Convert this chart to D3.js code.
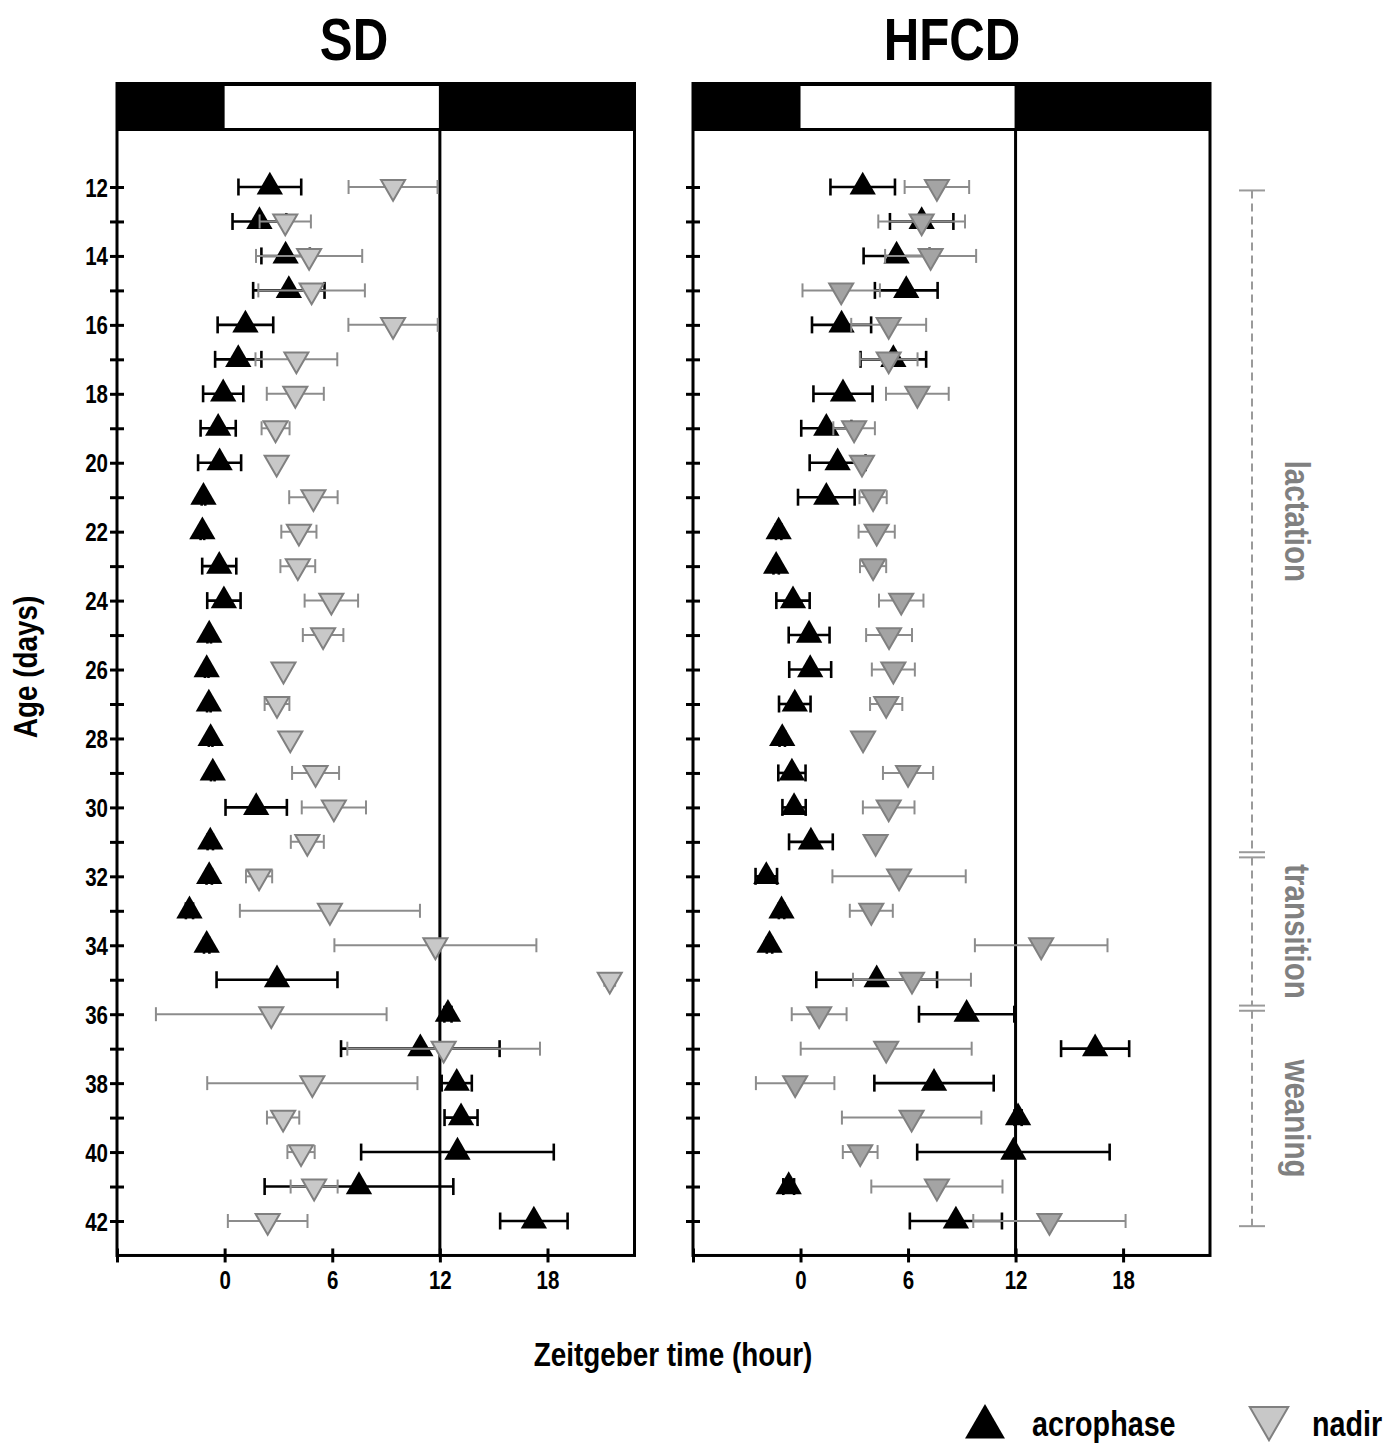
<!DOCTYPE html>
<html>
<head>
<meta charset="utf-8">
<script src="https://cdn.jsdelivr.net/npm/d3@7"></script>
<style>
  body { margin: 0; background: #fff; }
  svg { display: block; }
  text { font-family: "Liberation Sans", Arial, sans-serif; font-weight: bold; }
</style>
</head>
<body>
<svg id="chart" width="1399" height="1443"></svg>
<script>
// Postnatal age (days)
const days = [12,13,14,15,16,17,18,19,20,21,22,23,24,25,26,27,28,29,30,31,32,33,34,35,36,37,38,39,40,41,42];

// SD: acrophase / nadir (ZT hours) with error half-widths
const sdAcro     = [2.52,1.94,3.40,3.58,1.16,0.76,-0.08,-0.36,-0.28,-1.18,-1.24,-0.30,-0.04,-0.86,-1.00,-0.88,-0.78,-0.66,1.76,-0.80,-0.86,-1.96,-1.00,2.92,12.45,10.91,12.94,13.18,12.98,7.49,17.24];
const sdAcroErr  = [1.75,1.50,1.35,1.99,1.55,1.29,1.12,0.98,1.20,0.10,0.10,0.95,0.93,0.10,0.10,0.10,0.10,0.10,1.71,0.15,0.15,0.20,0.15,3.37,0.20,4.42,0.84,0.92,5.37,5.26,1.88];
const sdNadir    = [9.39,3.38,4.71,4.85,9.39,4.00,3.94,2.84,2.90,4.95,4.14,4.08,5.95,5.49,3.28,2.92,3.66,5.07,6.09,4.61,1.92,5.87,11.75,21.47,2.60,12.21,4.89,3.26,4.26,4.99,2.40];
const sdNadirErr = [2.48,1.43,2.96,2.97,2.49,2.28,1.59,0.78,0.15,1.35,0.98,0.97,1.49,1.13,0.15,0.69,0.15,1.31,1.79,0.92,0.73,5.02,5.63,0.30,6.43,5.37,5.86,0.90,0.76,1.31,2.22];

// HFCD: acrophase / nadir (ZT hours) with error half-widths
const hfAcro     = [3.47,6.76,5.36,5.90,2.29,5.18,2.37,1.44,2.07,1.44,-1.22,-1.36,-0.42,0.48,0.54,-0.32,-1.02,-0.48,-0.36,0.58,-1.91,-1.06,-1.73,4.25,9.27,16.44,7.45,12.14,11.88,-0.66,8.67];
const hfAcroErr  = [1.80,1.77,1.84,1.75,1.65,1.83,1.65,1.40,1.56,1.58,0.15,0.15,0.93,1.14,1.17,0.88,0.15,0.76,0.65,1.22,0.60,0.15,0.15,3.37,2.66,1.90,3.33,0.20,5.37,0.30,2.57];
const hfNadir    = [7.61,6.76,7.26,2.27,4.92,4.92,6.52,2.99,3.43,4.05,4.25,4.05,5.62,4.94,5.18,4.78,3.49,6.00,4.92,4.19,5.50,3.95,13.43,6.22,1.04,4.78,-0.30,6.20,3.33,7.61,13.89];
const hfNadirErr = [1.80,2.42,2.54,2.16,2.09,1.61,1.75,1.16,0.20,0.76,1.01,0.73,1.24,1.28,1.20,0.90,0.15,1.40,1.44,0.15,3.72,1.20,3.70,3.29,1.53,4.77,2.19,3.89,0.97,3.66,4.25];

// Axis ticks
const xTicks = [-6, 0, 6, 12, 18];
const xTickLabels = ["", "0", "6", "12", "18"];
const yTicks = days;
const yTickLabels = [12,14,16,18,20,22,24,26,28,30,32,34,36,38,40,42];

// Light/dark cycle (ZT hours)
const lightPhase = [0, 12];

// Developmental stages (age range in days)
const stageNames = ["lactation", "transition", "weaning"];
const stageStart = [12.1, 31.45, 35.9];
const stageEnd   = [31.3, 35.75, 42.15];

const svg = d3.select("#chart");
const NARROW = 0.82; // horizontal condensing for a narrow bold face

// text helper: positioned, optionally rotated, horizontally condensed
function label(parent, x, y, str, size, opts = {}) {
  return parent.append("text")
    .attr("transform", `translate(${x},${y})${opts.rotate ? ` rotate(${opts.rotate})` : ""} scale(${NARROW},1)`)
    .attr("text-anchor", opts.anchor || "start")
    .attr("font-size", size)
    .attr("font-weight", opts.weight || "bold")
    .attr("fill", opts.fill || "#000")
    .text(str);
}
function condenseTicks(sel) {
  sel.each(function () {
    const t = d3.select(this);
    const x = +t.attr("x") || 0, y = +t.attr("y") || 0;
    t.attr("x", 0).attr("y", 0).attr("transform", `translate(${x},${y}) scale(${NARROW},1)`);
  });
}

const yScale = d3.scaleLinear().domain([12, 42]).range([187, 1221]);
const frameTop = 83.5, barBottom = 131, frameBottom = yScale(43);

const panels = [
  { title: "SD",   titleX: 354, left: 117, right: 634.5, acro: sdAcro, acroErr: sdAcroErr, nadir: sdNadir, nadirErr: sdNadirErr, nadirFill: "#c8c8c8", yLabels: true },
  { title: "HFCD", titleX: 952, left: 693, right: 1210,  acro: hfAcro, acroErr: hfAcroErr, nadir: hfNadir, nadirErr: hfNadirErr, nadirFill: "#a4a4a4", yLabels: false }
];

const triUp = d3.symbol().type(d3.symbolTriangle).size(300);
const triDown = d3.symbol().type(d3.symbolTriangle).size(250);

panels.forEach(p => {
  const x = d3.scaleLinear().domain([-6, 22.85]).range([p.left, p.right]);
  const g = svg.append("g");

  // title
  label(g, p.titleX, 60, p.title, 60, { anchor: "middle" });

  // light/dark bar
  g.append("rect").attr("x", x(-6)).attr("y", frameTop).attr("width", x(22.85) - x(-6))
    .attr("height", barBottom - frameTop).attr("fill", "#000");
  g.append("rect").attr("x", x(lightPhase[0])).attr("y", frameTop + 2.5)
    .attr("width", x(lightPhase[1]) - x(lightPhase[0]) - 1).attr("height", barBottom - frameTop - 5.5)
    .attr("fill", "#fff");

  // frame
  g.append("rect").attr("x", x(-6)).attr("y", frameTop).attr("width", x(22.85) - x(-6))
    .attr("height", frameBottom - frameTop).attr("fill", "none")
    .attr("stroke", "#000").attr("stroke-width", 3);

  // ZT12 line
  g.append("line").attr("x1", x(12)).attr("x2", x(12)).attr("y1", barBottom).attr("y2", frameBottom)
    .attr("stroke", "#000").attr("stroke-width", 3);

  // y axis ticks
  const yAxis = d3.axisLeft(yScale).tickValues(yTicks).tickSize(7)
    .tickFormat(d => (p.yLabels && yTickLabels.includes(d)) ? d : "");
  const ya = g.append("g").attr("transform", `translate(${p.left},0)`).call(yAxis);
  ya.select(".domain").remove();
  ya.selectAll(".tick line").attr("x2", -7).attr("x1", 7).attr("stroke", "#000").attr("stroke-width", 3);
  ya.selectAll(".tick text").attr("x", -9).attr("dy", "0.36em").attr("font-size", 25)
    .attr("font-family", null).attr("fill", "#000");
  condenseTicks(ya.selectAll(".tick text"));

  // x axis ticks
  const xAxis = d3.axisBottom(x).tickValues(xTicks).tickSize(7)
    .tickFormat((d, i) => xTickLabels[i]);
  const xa = g.append("g").attr("transform", `translate(0,${frameBottom})`).call(xAxis);
  xa.select(".domain").remove();
  xa.selectAll(".tick line").attr("y1", -7).attr("y2", 7).attr("stroke", "#000").attr("stroke-width", 3);
  xa.selectAll(".tick text").attr("y", 16).attr("dy", "0.71em").attr("font-size", 25)
    .attr("font-family", null).attr("fill", "#000");
  condenseTicks(xa.selectAll(".tick text"));

  // error bars + markers for one series
  const drawSeries = (vals, errs, col, capH, sw, kind) => {
    const s = g.append("g");
    const rows = days.map((d, i) => ({ d, v: vals[i], e: errs[i] }));
    s.selectAll("line.bar").data(rows).join("line").attr("class", "bar")
      .attr("x1", r => x(r.v - r.e)).attr("x2", r => x(r.v + r.e))
      .attr("y1", r => yScale(r.d)).attr("y2", r => yScale(r.d))
      .attr("stroke", col).attr("stroke-width", sw);
    [-1, 1].forEach(sgn => {
      s.selectAll(null).data(rows).join("line")
        .attr("x1", r => x(r.v + sgn * r.e)).attr("x2", r => x(r.v + sgn * r.e))
        .attr("y1", r => yScale(r.d) - capH).attr("y2", r => yScale(r.d) + capH)
        .attr("stroke", col).attr("stroke-width", sw);
    });
    if (kind === "acro") {
      s.selectAll("path").data(rows).join("path")
        .attr("d", triUp)
        .attr("transform", r => `translate(${x(r.v)},${yScale(r.d)})`)
        .attr("fill", "#000");
    } else {
      s.selectAll("path").data(rows).join("path")
        .attr("d", triDown)
        .attr("transform", r => `translate(${x(r.v)},${yScale(r.d)}) rotate(180)`)
        .attr("fill", p.nadirFill).attr("stroke", "#808080").attr("stroke-width", 2);
    }
  };
  drawSeries(p.acro, p.acroErr, "#000", 8.5, 2.6, "acro");
  drawSeries(p.nadir, p.nadirErr, "#8c8c8c", 7, 2, "nadir");
});

// axis titles
label(svg, 673, 1366, "Zeitgeber time (hour)", 34, { anchor: "middle" });
label(svg, 37, 667, "Age (days)", 34, { anchor: "middle", rotate: -90 });

// developmental stage bracket
const bx = 1252;
const stg = svg.append("g");
stageNames.forEach((name, i) => {
  const y0 = yScale(stageStart[i]), y1 = yScale(stageEnd[i]);
  stg.append("line").attr("x1", bx).attr("x2", bx).attr("y1", y0).attr("y2", y1)
    .attr("stroke", "#9a9a9a").attr("stroke-width", 2).attr("stroke-dasharray", "8,5");
  [y0, y1].forEach(yy => stg.append("line").attr("x1", bx - 13).attr("x2", bx + 13)
    .attr("y1", yy).attr("y2", yy).attr("stroke", "#9a9a9a").attr("stroke-width", 2));
  label(stg, 1285, (y0 + y1) / 2, name, 36, { anchor: "middle", rotate: 90, weight: "normal", fill: "#808080" });
});

// legend
const lg = svg.append("g");
lg.append("path").attr("d", d3.symbol().type(d3.symbolTriangle).size(690))
  .attr("transform", "translate(985,1427)").attr("fill", "#000");
label(lg, 1032, 1436, "acrophase", 35);
lg.append("path").attr("d", d3.symbol().type(d3.symbolTriangle).size(640))
  .attr("transform", "translate(1269,1418) rotate(180)")
  .attr("fill", "#c8c8c8").attr("stroke", "#808080").attr("stroke-width", 2);
label(lg, 1312, 1436, "nadir", 35);
</script>
</body>
</html>
